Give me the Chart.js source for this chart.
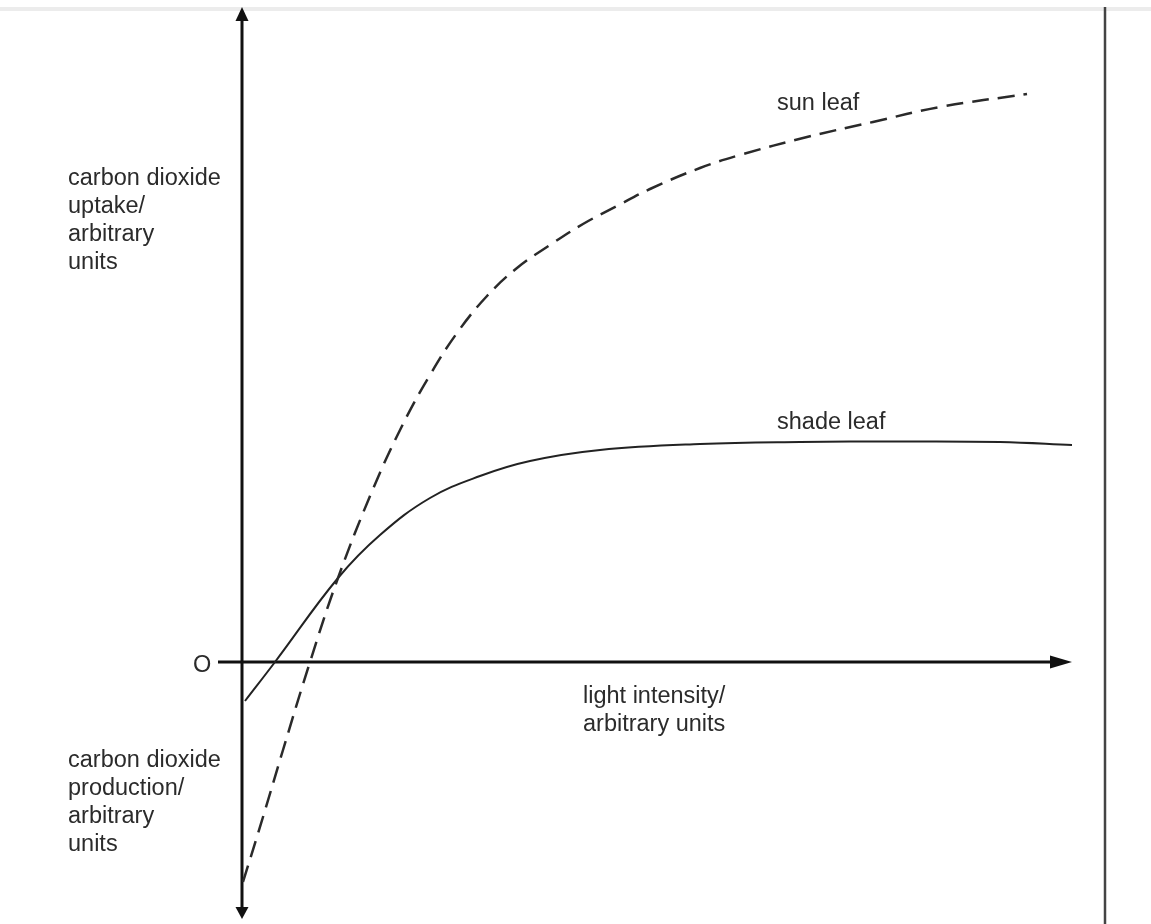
<!DOCTYPE html>
<html lang="en">
<head>
    <meta charset="UTF-8">
    <title>Carbon dioxide uptake of sun and shade leaves</title>
    <script src="https://cdn.jsdelivr.net/npm/chart.js"></script>
    <style>
        html, body {
            margin: 0;
            padding: 0;
            background: #ffffff;
        }
        canvas {
            display: block;
        }
    </style>
</head>
<body>
    <canvas id="leafChart" width="1151" height="924"></canvas>
    <script>
        // light intensity (arbitrary units)
        const sunLight = [0.01, 0.21, 0.41, 0.68, 0.96, 1.31, 1.61, 1.88, 2.15, 2.45, 2.75, 3.08, 3.41, 3.75, 4.08, 4.58, 4.98, 5.65, 6.31, 6.98, 7.85];
        const sunUptake = [-2.20, -1.55, -0.88, 0, 0.84, 1.73, 2.38, 2.87, 3.29, 3.66, 3.94, 4.17, 4.38, 4.56, 4.73, 4.94, 5.07, 5.25, 5.40, 5.55, 5.68];

        const shadeLight = [0.03, 0.33, 0.96, 1.38, 1.88, 2.38, 2.88, 3.58, 4.58, 5.58, 6.58, 7.58, 8.30];
        const shadeUptake = [-0.39, 0, 0.84, 1.27, 1.64, 1.86, 2.01, 2.12, 2.18, 2.20, 2.205, 2.20, 2.17];

        const xRange = [0, 8.3];
        const yRange = [-2.53, 6.54];

        const toPoints = (xs, ys) => xs.map((x, i) => ({ x: x, y: ys[i] }));

        const FONT = '23.5px "Liberation Sans", Arial, sans-serif';
        const INK = '#2b2b2b';

        function arrow(ctx, tipX, tipY, dx, dy, len, half) {
            // dx, dy: unit direction the arrow points to
            const bx = tipX - dx * len, by = tipY - dy * len;
            ctx.beginPath();
            ctx.moveTo(tipX, tipY);
            ctx.lineTo(bx - dy * half, by + dx * half);
            ctx.lineTo(bx + dy * half, by - dx * half);
            ctx.closePath();
            ctx.fill();
        }

        const axesPlugin = {
            id: 'axesAndLabels',
            beforeDatasetsDraw(chart) {
                const ctx = chart.ctx;
                const x0 = chart.scales.x.getPixelForValue(0);
                const y0 = chart.scales.y.getPixelForValue(0);
                const area = chart.chartArea;
                ctx.save();

                // faint strip along the top edge
                ctx.fillStyle = '#ececec';
                ctx.fillRect(0, 7, chart.width, 4);

                // right border
                ctx.strokeStyle = '#444';
                ctx.lineWidth = 2.5;
                ctx.beginPath();
                ctx.moveTo(1105, 7);
                ctx.lineTo(1105, chart.height);
                ctx.stroke();

                ctx.strokeStyle = '#111';
                ctx.fillStyle = '#111';
                ctx.lineWidth = 3;

                // y axis
                ctx.beginPath();
                ctx.moveTo(x0, 18);
                ctx.lineTo(x0, 908);
                ctx.stroke();
                arrow(ctx, x0, 7, 0, -1, 14, 6.5);
                arrow(ctx, x0, 919, 0, 1, 12, 6.5);

                // x axis
                ctx.beginPath();
                ctx.moveTo(218, y0);
                ctx.lineTo(area.right - 18, y0);
                ctx.stroke();
                arrow(ctx, area.right, y0, 1, 0, 22, 6.5);

                // text
                ctx.fillStyle = INK;
                ctx.font = FONT;
                ctx.textBaseline = 'alphabetic';
                ctx.textAlign = 'left';
                ctx.fillText('O', 193, y0 + 9.5);

                const upper = ['carbon dioxide', 'uptake/', 'arbitrary', 'units'];
                upper.forEach((t, i) => ctx.fillText(t, 68, 185 + i * 28));
                const lower = ['carbon dioxide', 'production/', 'arbitrary', 'units'];
                lower.forEach((t, i) => ctx.fillText(t, 68, 767 + i * 28));

                ctx.fillText('light intensity/', 583, 703);
                ctx.fillText('arbitrary units', 583, 731);

                ctx.fillText('sun leaf', 777, 110);
                ctx.fillText('shade leaf', 777, 429);

                ctx.restore();
            }
        };

        const config = {
            type: 'scatter',
            data: {
                datasets: [
                    {
                        label: 'sun leaf',
                        data: toPoints(sunLight, sunUptake),
                        showLine: true,
                        borderColor: '#2a2a2a',
                        borderWidth: 2.5,
                        borderDash: [17, 9],
                        pointRadius: 0,
                        tension: 0.4
                    },
                    {
                        label: 'shade leaf',
                        data: toPoints(shadeLight, shadeUptake),
                        showLine: true,
                        borderColor: '#222',
                        borderWidth: 2,
                        pointRadius: 0,
                        tension: 0.4
                    }
                ]
            },
            options: {
                responsive: false,
                animation: false,
                devicePixelRatio: 1,
                layout: {
                    padding: { left: 242, right: 79, top: 8, bottom: 9 }
                },
                plugins: {
                    legend: { display: false },
                    tooltip: { enabled: false }
                },
                scales: {
                    x: { type: 'linear', display: false, min: xRange[0], max: xRange[1] },
                    y: { type: 'linear', display: false, min: yRange[0], max: yRange[1] }
                }
            },
            plugins: [axesPlugin]
        };

        new Chart(document.getElementById('leafChart'), config);
    </script>
</body>
</html>
